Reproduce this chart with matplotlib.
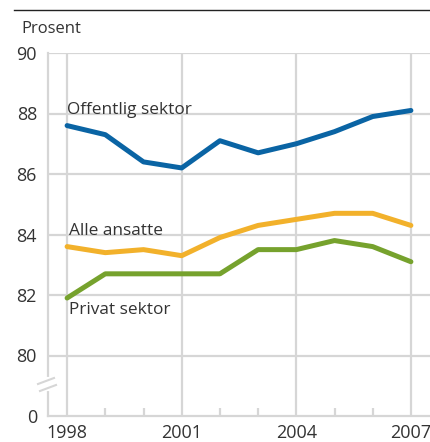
import matplotlib
matplotlib.use("Agg")
import matplotlib.pyplot as plt
from matplotlib.lines import Line2D

years = [1998, 1999, 2000, 2001, 2002, 2003, 2004, 2005, 2006, 2007]
offentlig = [87.6, 87.3, 86.4, 86.2, 87.1, 86.7, 87.0, 87.4, 87.9, 88.1]
alle = [83.6, 83.4, 83.5, 83.3, 83.9, 84.3, 84.5, 84.7, 84.7, 84.3]
privat = [81.9, 82.7, 82.7, 82.7, 82.7, 83.5, 83.5, 83.8, 83.6, 83.1]

ytick_vals = [78, 80, 82, 84, 86, 88, 90]
ytick_labels = ["0", "80", "82", "84", "86", "88", "90"]
xtick_vals = [1998, 2001, 2004, 2007]
minor_years = [1999, 2000, 2002, 2003, 2005, 2006]

BLUE = "#0a64a4"
ORANGE = "#f2b12b"
GREEN = "#76a22d"
GRID = "#d6d6d6"
TEXT = "#333333"

plt.rcParams["font.family"] = ["Open Sans", "DejaVu Sans"]

W, H = 430, 442
fig = plt.figure(figsize=(W / 100, H / 100), dpi=100)
ax = fig.add_axes([48 / W, 1 - 416 / H, 382 / W, (416 - 53) / H])

ax.plot(years, offentlig, color=BLUE, lw=3.6, solid_capstyle="round", zorder=3)
ax.plot(years, alle, color=ORANGE, lw=3.6, solid_capstyle="round", zorder=3)
ax.plot(years, privat, color=GREEN, lw=3.6, solid_capstyle="round", zorder=3)

ax.set_xlim(1997.5, 2007.5)
ax.set_ylim(78, 90)
ax.set_yticks(ytick_vals)
ax.set_yticklabels(ytick_labels)
ax.set_xticks(xtick_vals)
ax.set_xticks(minor_years, minor=True)

for v in ytick_vals[1:]:
    ax.axhline(v, color=GRID, lw=1.6, zorder=1)
for v in xtick_vals:
    ax.axvline(v, color=GRID, lw=1.6, zorder=1)

for s in ["top", "right"]:
    ax.spines[s].set_visible(False)
for s in ["left", "bottom"]:
    ax.spines[s].set_color(GRID)
    ax.spines[s].set_linewidth(1.6)

ax.tick_params(axis="both", which="major", length=0, labelsize=13, colors=TEXT)
ax.tick_params(axis="y", pad=8)
ax.tick_params(axis="x", pad=6)
ax.tick_params(axis="x", which="minor", direction="in", length=6, width=1.6, color=GRID)

ax.text(1998.0, 88.12, "Offentlig sektor", fontsize=12.4, color=TEXT, va="center", ha="left")
ax.text(1998.05, 84.12, "Alle ansatte", fontsize=12.4, color=TEXT, va="center", ha="left")
ax.text(1998.05, 81.5, "Privat sektor", fontsize=12.4, color=TEXT, va="center", ha="left")

# axis break on the left spine
def px(x, y):
    return x / W, 1 - y / H

gap = Line2D(*zip(px(48, 379), px(48, 389)), transform=fig.transFigure,
             color="white", lw=3, zorder=5)
fig.add_artist(gap)
for (x0, y0, x1, y1) in [(38, 384, 54, 378), (40, 391, 56, 385)]:
    fig.add_artist(Line2D(*zip(px(x0, y0), px(x1, y1)), transform=fig.transFigure,
                          color=GRID, lw=1.5, zorder=6))

# top rule and unit label
fig.add_artist(Line2D(*zip(px(14, 10), px(430, 10)), transform=fig.transFigure,
                      color="#222222", lw=1.0))
fig.text(21 / W, 1 - 29 / H, "Prosent", fontsize=12, color=TEXT, va="center", ha="left")

fig.savefig("out.png", dpi=100)
